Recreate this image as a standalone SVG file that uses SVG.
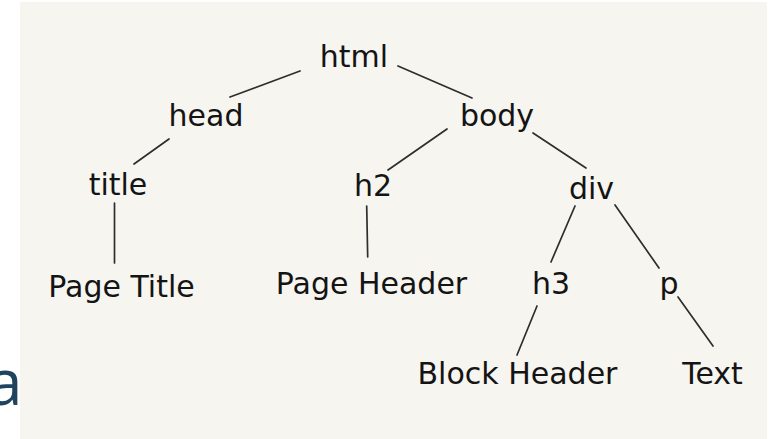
<svg xmlns="http://www.w3.org/2000/svg" width="769" height="439" viewBox="0 0 769 439">
  <style>
    .lbl { font-family: "DejaVu Sans", Verdana, sans-serif; font-size: 30px; fill: #141414; text-anchor: middle; }
    .edge { stroke: #2e2e2e; stroke-width: 1.7; stroke-linecap: round; fill: none; }
    .side { font-family: "Open Sans", "DejaVu Sans", sans-serif; font-size: 64px; fill: #1f4460; }
  </style>
  <rect x="0" y="0" width="769" height="439" fill="#ffffff"/>
  <!-- partial letter at the left edge -->
  <text class="side" x="-13" y="405">a</text>
  <!-- panel -->
  <rect x="20" y="2" width="747" height="437" fill="#f6f5f0"/>

  <g id="connectors">
    <line class="edge" x1="300" y1="71" x2="230" y2="97"/>
    <line class="edge" x1="398" y1="66" x2="472" y2="98"/>
    <line class="edge" x1="169" y1="139" x2="134" y2="164"/>
    <line class="edge" x1="114.5" y1="203" x2="114.5" y2="263"/>
    <line class="edge" x1="447" y1="129" x2="388" y2="170"/>
    <line class="edge" x1="533" y1="133" x2="586" y2="168"/>
    <line class="edge" x1="366.7" y1="206" x2="367.7" y2="257"/>
    <line class="edge" x1="575" y1="206" x2="551" y2="262"/>
    <line class="edge" x1="615" y1="205" x2="659" y2="268"/>
    <line class="edge" x1="537" y1="306" x2="517" y2="355"/>
    <line class="edge" x1="678" y1="297" x2="713" y2="346"/>
  </g>

  <g id="html"><text class="lbl" x="354" y="67">html</text></g>
  <g id="head"><text class="lbl" x="206" y="126">head</text></g>
  <g id="body"><text class="lbl" x="497" y="126">body</text></g>
  <g id="title"><text class="lbl" x="118" y="195">title</text></g>
  <g id="h2"><text class="lbl" x="373" y="196">h2</text></g>
  <g id="div"><text class="lbl" x="591.5" y="199">div</text></g>
  <g id="page-title"><text class="lbl" x="121.5" y="297">Page Title</text></g>
  <g id="page-header"><text class="lbl" x="371.5" y="294">Page Header</text></g>
  <g id="h3"><text class="lbl" x="551" y="294">h3</text></g>
  <g id="p"><text class="lbl" x="669" y="294">p</text></g>
  <g id="block-header"><text class="lbl" x="517.5" y="384">Block Header</text></g>
  <g id="text"><text class="lbl" x="712.5" y="384">Text</text></g>
</svg>
